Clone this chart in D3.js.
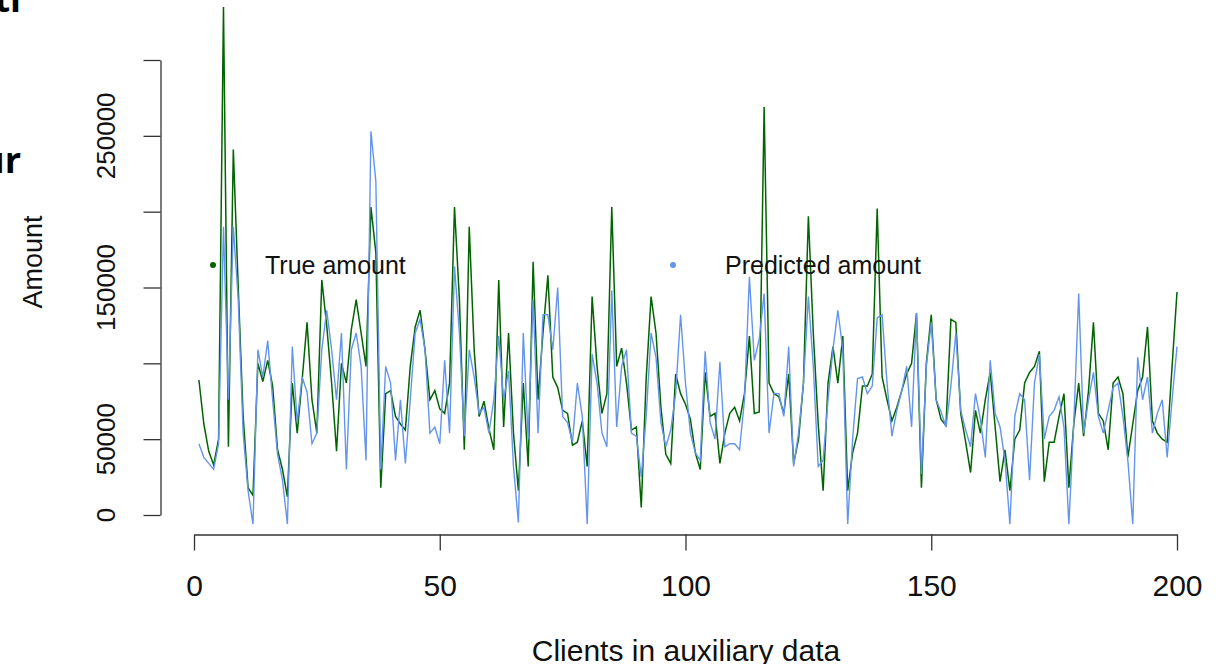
<!DOCTYPE html>
<html>
<head>
<meta charset="utf-8">
<script src="https://cdn.jsdelivr.net/npm/d3@7"></script>
<style>
  body { margin: 0; background: #fff; }
  svg { display: block; }
  .axis path, .axis line { stroke: #333; stroke-width: 1.3px; }
</style>
</head>
<body>
<div id="chart"></div>
<script>
// values (amounts), index = client 1..200
var trueAmount = [
  89000, 60000, 42000, 33000, 50000, 335000, 45000, 241000, 150000, 65000,
  18000, 13000, 100000, 88000, 102000, 85000, 43000, 30000, 12000, 87000,
  54000, 89000, 127000, 76000, 54000, 155000, 125000, 87000, 42000, 100000,
  87000, 122000, 142000, 120000, 98000, 203000, 173000, 18000, 80000, 82000,
  65000, 60000, 56000, 98000, 124000, 135000, 109000, 76000, 82000, 70000,
  67000, 87000, 203000, 142000, 43000, 190000, 109000, 65000, 75000, 57000,
  43000, 155000, 58000, 120000, 54000, 16000, 87000, 32000, 167000, 76000,
  120000, 158000, 91000, 84000, 69000, 67000, 46000, 48000, 62000, 32000,
  144000, 98000, 67000, 80000, 203000, 98000, 110000, 87000, 56000, 58000,
  5000, 90000, 144000, 120000, 71000, 40000, 34000, 93000, 80000, 73000,
  63000, 41000, 30000, 94000, 65000, 67000, 34000, 54000, 67000, 71000,
  62000, 80000, 118000, 67000, 68000, 269000, 87000, 80000, 78000, 67000,
  93000, 34000, 50000, 87000, 197000, 120000, 60000, 16000, 87000, 111000,
  87000, 118000, 16000, 41000, 54000, 85000, 85000, 93000, 202000, 91000,
  76000, 62000, 71000, 82000, 93000, 100000, 133000, 18000, 100000, 132000,
  76000, 63000, 59000, 129000, 127000, 67000, 48000, 28000, 69000, 54000,
  76000, 94000, 58000, 22000, 43000, 16000, 50000, 56000, 87000, 94000,
  98000, 108000, 22000, 48000, 48000, 65000, 80000, 18000, 60000, 87000,
  52000, 82000, 127000, 67000, 62000, 43000, 87000, 91000, 80000, 38000,
  60000, 82000, 91000, 124000, 62000, 54000, 50000, 48000, 98000, 147000
];
var predictedAmount = [
  47000, 38000, 34000, 30000, 47000, 190000, 76000, 190000, 142000, 54000,
  16000, -6000, 109000, 91000, 115000, 76000, 40000, 23000, -6000, 111000,
  61000, 91000, 81000, 47000, 54000, 109000, 135000, 109000, 76000, 120000,
  30000, 109000, 120000, 98000, 36000, 253000, 220000, 30000, 98000, 87000,
  36000, 76000, 34000, 76000, 120000, 129000, 109000, 54000, 58000, 47000,
  102000, 54000, 164000, 120000, 52000, 109000, 91000, 67000, 71000, 54000,
  76000, 118000, 76000, 95000, 32000, -5000, 120000, 50000, 142000, 54000,
  132000, 132000, 109000, 150000, 65000, 61000, 48000, 87000, 65000, -6000,
  106000, 87000, 54000, 45000, 148000, 58000, 98000, 109000, 54000, 52000,
  25000, 65000, 120000, 104000, 61000, 45000, 56000, 80000, 132000, 87000,
  54000, 41000, 36000, 108000, 61000, 50000, 101000, 45000, 47000, 47000,
  43000, 76000, 157000, 102000, 116000, 146000, 54000, 80000, 80000, 65000,
  111000, 32000, 54000, 87000, 144000, 98000, 32000, 36000, 76000, 109000,
  135000, 109000, -6000, 50000, 90000, 91000, 80000, 85000, 130000, 132000,
  87000, 52000, 69000, 82000, 98000, 58000, 133000, 27000, 98000, 127000,
  76000, 68000, 58000, 85000, 120000, 69000, 56000, 45000, 80000, 63000,
  38000, 102000, 67000, 58000, 36000, -6000, 65000, 80000, 76000, 23000,
  87000, 106000, 50000, 65000, 69000, 78000, 58000, -6000, 61000, 146000,
  54000, 76000, 94000, 65000, 54000, 69000, 84000, 87000, 65000, 36000,
  -6000, 104000, 76000, 91000, 54000, 67000, 76000, 38000, 76000, 111000
];
var xTicks = [0, 50, 100, 150, 200];
var yTicks = [0, 50000, 100000, 150000, 200000, 250000, 300000];
var yTickLabels = [0, 50000, 150000, 250000]; // R drops the ones that would overlap
var legendLabels = ["True amount", "Predicted amount"];
var seriesColors = ["#006400", "#6495ED"];

var width = 1221, height = 664;
var font = "'Liberation Sans', Arial, sans-serif";

var svg = d3.select("#chart").append("svg")
    .attr("width", width)
    .attr("height", height);

var x = d3.scaleLinear().domain([0, 200]).range([194, 1177]);
var y = d3.scaleLinear().domain([0, 300000]).range([515, 60]);

// bits of the slide text that got cropped at the left edge
svg.append("text").attr("x", 21).attr("y", 12)
    .attr("text-anchor", "end")
    .style("font-family", "'Open Sans', sans-serif").style("font-weight", "bold").style("font-size", "36px")
    .text("ti");
svg.append("text").attr("x", 21).attr("y", 173)
    .attr("text-anchor", "end")
    .style("font-family", "'Open Sans', sans-serif").style("font-weight", "bold").style("font-size", "36px")
    .text("ur");

//Axes
var xAxis = svg.append("g")
    .attr("class", "axis")
    .attr("transform", "translate(0,534.5)")
    .call(d3.axisBottom(x).tickValues(xTicks).tickSize(16).tickSizeOuter(0).tickFormat(d3.format("d")));
xAxis.selectAll("text")
    .attr("y", 61).attr("dy", 0)
    .attr("fill", "#111")
    .style("font-family", font).style("font-size", "30px");

var yAxis = svg.append("g")
    .attr("class", "axis")
    .attr("transform", "translate(160.5,0)")
    .call(d3.axisLeft(y).tickValues(yTicks).tickSize(17).tickSizeOuter(0).tickFormat(""));
yAxis.selectAll("text").remove();

svg.append("g").selectAll("text")
    .data(yTickLabels)
    .enter()
    .append("text")
    .attr("transform", function(d) { return "translate(115," + y(d) + ") rotate(-90)"; })
    .attr("text-anchor", "middle")
    .attr("fill", "#111")
    .style("font-family", font).style("font-size", "26px")
    .text(function(d) { return d; });

svg.append("text")
    .attr("x", 686).attr("y", 661)
    .attr("text-anchor", "middle")
    .attr("fill", "#111")
    .style("font-family", font).style("font-size", "30px")
    .text("Clients in auxiliary data");

svg.append("text")
    .attr("transform", "translate(42,262) rotate(-90)")
    .attr("text-anchor", "middle")
    .attr("fill", "#111")
    .style("font-family", font).style("font-size", "27px")
    .text("Amount");

//Lines
var line = d3.line()
    .x(function(d, i) { return x(i + 1); })
    .y(function(d) { return y(d); });

svg.append("path")
    .datum(trueAmount)
    .attr("fill", "none")
    .attr("stroke", seriesColors[0])
    .attr("stroke-width", 1.5)
    .attr("d", line);

svg.append("path")
    .datum(predictedAmount)
    .attr("fill", "none")
    .attr("stroke", seriesColors[1])
    .attr("stroke-width", 1.4)
    .attr("d", line);

//Legend (no box)
var legendX = [213, 673];
var legend = svg.append("g").selectAll("g")
    .data(legendLabels)
    .enter()
    .append("g")
    .attr("transform", function(d, i) { return "translate(" + legendX[i] + ",265)"; });
legend.append("circle")
    .attr("r", 3)
    .attr("fill", function(d, i) { return seriesColors[i]; });
legend.append("text")
    .attr("x", 52).attr("y", 9)
    .attr("fill", "#111")
    .style("font-family", font).style("font-size", "25px")
    .text(function(d) { return d; });
</script>
</body>
</html>
